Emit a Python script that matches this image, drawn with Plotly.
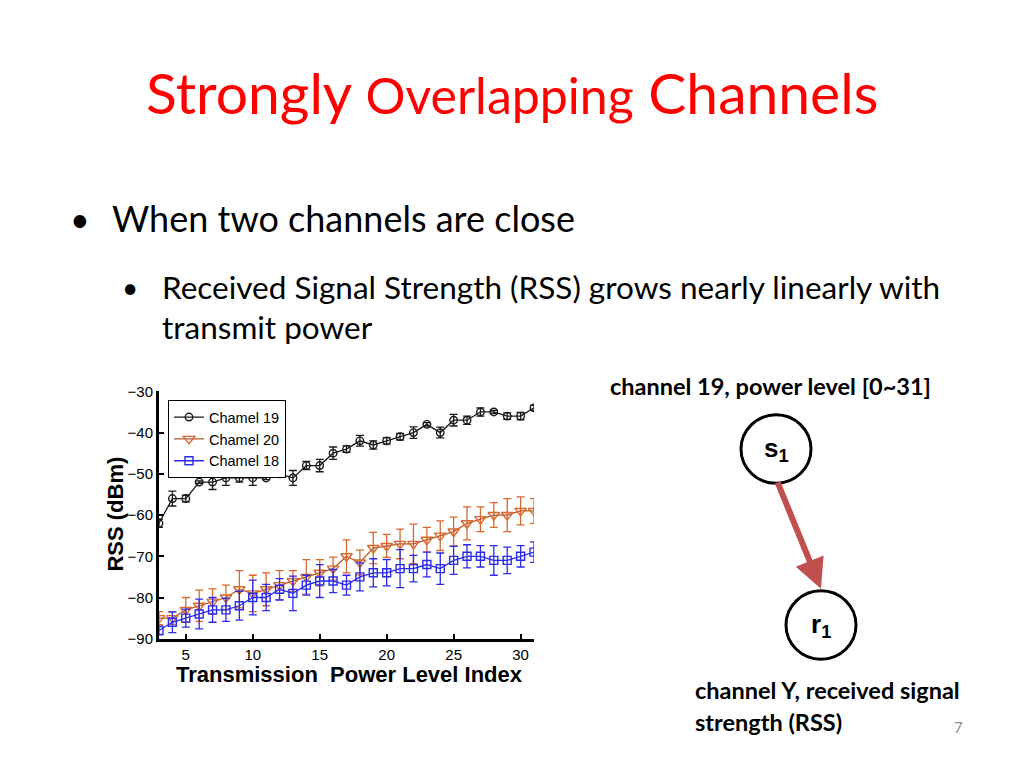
import plotly.graph_objects as go

# power level index on the x axis
power_level = list(range(3, 32))

# mean RSS (dBm) per power level
ch19_rss = [-62, -56, -56, -52, -52, -51, -51, -51, -51, -50, -51, -48, -48, -45,
            -44, -42, -43, -42, -41, -40, -38, -40, -37, -37, -35, -35, -36, -36, -34]
ch19_err = [1.0, 1.8, 0.8, 0.3, 1.8, 1.8, 1.0, 1.8, 0.4, 0.8, 1.8, 1.0, 1.5, 1.5,
            0.8, 1.3, 1.0, 0.8, 0.8, 1.4, 0.4, 1.3, 1.4, 1.0, 1.0, 0.4, 0.8, 0.9, 0.6]

ch20_rss = [-85, -85, -83, -82, -81, -80, -78, -79, -78, -77, -76, -75, -74, -73,
            -70, -71.5, -68, -67.5, -67, -67, -66, -65, -64, -62, -61, -60, -60, -59, -59]
ch20_err = [1.6, 1.5, 3.0, 3.8, 3.1, 3.0, 4.5, 4.4, 4.0, 3.5, 2.5, 4.2, 3.2, 2.8,
            4.0, 3.0, 3.8, 2.8, 3.6, 4.8, 3.0, 3.6, 3.5, 4.0, 3.0, 3.0, 4.0, 3.4, 3.0]

ch18_rss = [-88, -86, -85, -84, -83, -83, -82, -80, -80, -78, -79, -77, -76, -76,
            -77, -75, -74, -74, -73, -73, -72, -73, -71, -70, -70, -71, -71, -70, -69]
ch18_err = [1.0, 2.5, 2.2, 3.6, 3.0, 2.8, 3.5, 4.2, 3.2, 2.6, 4.2, 2.4, 4.0, 2.8,
            2.4, 3.4, 3.4, 3.2, 4.6, 3.2, 3.0, 3.8, 3.4, 2.8, 2.6, 3.6, 3.2, 2.6, 2.5]

x_ticks = [5, 10, 15, 20, 25, 30]
y_ticks = [-30, -40, -50, -60, -70, -80, -90]

W, H = 1024, 768
def px(x):
    return x / W
def py(y):
    return 1 - y / H

fig = go.Figure()

series = [
    ("Chamel 19", ch19_rss, ch19_err, "#1a1a1a", "#1a1a1a", "circle-open", 7.5),
    ("Chamel 20", ch20_rss, ch20_err, "#b4592a", "#d9682e", "triangle-down-open", 10),
    ("Chamel 18", ch18_rss, ch18_err, "#2a2af0", "#2a2af0", "square-open", 8),
]
for name, yv, ev, lc, mc, sym, sz in series:
    fig.add_trace(go.Scatter(
        x=power_level, y=yv, name=name, mode="lines+markers",
        line=dict(color=lc, width=1.3),
        marker=dict(symbol=sym, size=sz, color=mc, line=dict(width=1.4, color=mc)),
        error_y=dict(type="data", array=ev, visible=True, color=mc, thickness=1.3, width=4),
    ))

fig.update_layout(
    width=W, height=H,
    margin=dict(l=0, r=0, t=0, b=0),
    paper_bgcolor="white", plot_bgcolor="white",
    font=dict(family="Liberation Sans, Arial", color="black"),
    showlegend=True,
    legend=dict(x=px(168), y=py(400), xanchor="left", yanchor="top",
                bordercolor="black", borderwidth=1, bgcolor="white",
                font=dict(size=14.5, family="Liberation Sans, Arial"),
                tracegroupgap=0, itemwidth=30),
    xaxis=dict(domain=[px(159), px(534)], range=[3, 31], tickvals=x_ticks,
               ticks="inside", ticklen=5, tickwidth=1.5, tickcolor="black",
               showline=True, linecolor="black", linewidth=3, showgrid=False,
               zeroline=False, tickfont=dict(size=15)),
    yaxis=dict(domain=[py(644), py(391)], range=[-90, -30], tickvals=y_ticks,
               ticks="inside", ticklen=5, tickwidth=1.5, tickcolor="black",
               showline=True, linecolor="black", linewidth=3, showgrid=False,
               zeroline=False, tickfont=dict(size=15)),
)

def label(x, y, text, size, xanchor="left", family="Lato, Open Sans, sans-serif",
          color="black", angle=0):
    fig.add_annotation(x=px(x), y=py(y), xref="paper", yref="paper", showarrow=False,
                       xanchor=xanchor, yanchor="middle", text=text, textangle=angle,
                       font=dict(size=size, color=color, family=family))

# slide title and bullets
label(512, 85, "Strongly <span style='font-size:50px'>Overlapping</span> Channels",
      57, xanchor="center", color="#ff0000")
label(68, 214, "•", 34)
label(110, 214, "When two channels are close", 36)
label(120, 284, "•", 28)
label(160, 284, "Received Signal Strength (RSS) grows nearly linearly with", 31.5)
label(160, 325, "transmit power", 31.5)

# axis titles
label(116, 517, "<b>RSS (dBm)</b>", 22, xanchor="center",
      family="Liberation Sans, Arial", angle=-90)
label(349, 681, "<b>Transmission&nbsp;&nbsp;Power Level Index</b>", 22,
      xanchor="center", family="Liberation Sans, Arial")

# diagram on the right
for cx, cy, node in [(776, 450, "s<sub>1</sub>"), (821, 630, "r<sub>1</sub>")]:
    fig.add_shape(type="circle", xref="paper", yref="paper",
                  x0=px(cx - 35), x1=px(cx + 35), y0=py(cy + 35), y1=py(cy - 35),
                  line=dict(color="black", width=3), fillcolor="white")
    label(cx, cy, "<b>" + node + "</b>", 26, xanchor="center",
          family="Liberation Sans, Arial")

fig.add_annotation(x=px(821), y=py(593), xref="paper", yref="paper", text="",
                   showarrow=True, ax=-44, ay=-108, arrowhead=2, arrowsize=1,
                   arrowwidth=6, arrowcolor="#c0504d")

label(608, 386, "<b>channel 19, power level [0~31]</b>", 23.5)
label(693, 696, "<b>channel Y, received signal</b>", 23.5)
label(693, 729, "<b>strength (RSS)</b>", 23.5)
label(958, 734, "7", 15, xanchor="center", color="#8c8c8c")

# browser default body margin would shift the slide by 8px
fig.write_html("out.html", config={"displayModeBar": False},
               post_script="document.body.style.margin='0';")
